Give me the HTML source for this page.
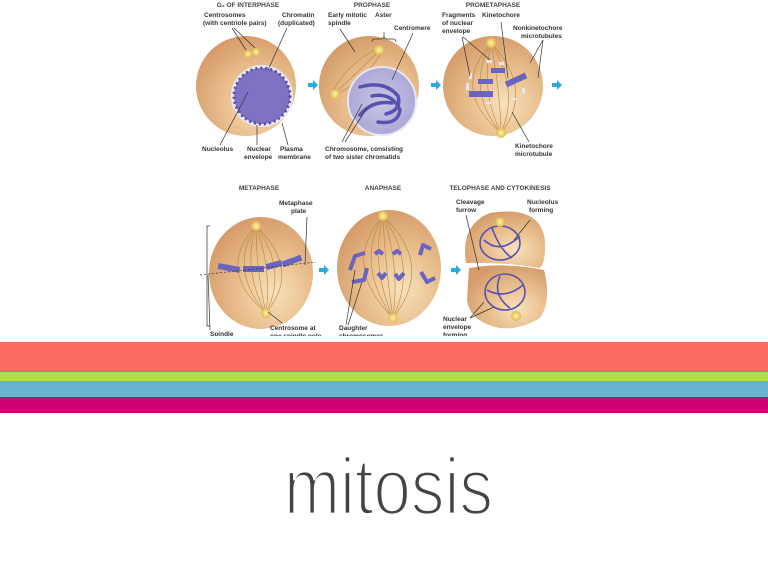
<!DOCTYPE html>
<html><head><meta charset="utf-8"><style>
html,body{margin:0;padding:0;background:#fff;width:768px;height:561px;overflow:hidden}
svg{display:block}
.t{font-family:"Liberation Sans",sans-serif;font-weight:bold;font-size:6.5px;fill:#333}
.h{font-family:"Liberation Sans",sans-serif;font-weight:bold;font-size:6.5px;fill:#444}
</style></head><body>
<svg width="768" height="561" viewBox="0 0 768 561" xmlns="http://www.w3.org/2000/svg">
<defs>
<radialGradient id="cell" cx="0.62" cy="0.68" r="0.7">
<stop offset="0" stop-color="#f8e2bd"/><stop offset="0.5" stop-color="#e9bf8e"/><stop offset="1" stop-color="#d59c6a"/>
</radialGradient>
<radialGradient id="nuc" cx="0.5" cy="0.5" r="0.6">
<stop offset="0" stop-color="#c9c6e6"/><stop offset="1" stop-color="#a7a3d4"/>
</radialGradient>
<radialGradient id="cen" cx="0.5" cy="0.5" r="0.5">
<stop offset="0" stop-color="#fff4b0"/><stop offset="1" stop-color="#e2b94a"/>
</radialGradient>
</defs>

<text class="h" x="248" y="7" text-anchor="middle">G₂ OF INTERPHASE</text>
<text class="h" x="372" y="7" text-anchor="middle">PROPHASE</text>
<text class="h" x="493" y="7" text-anchor="middle">PROMETAPHASE</text>

<circle cx="246" cy="86" r="50" fill="url(#cell)"/>
<circle cx="262" cy="96" r="31" fill="#eeeaf6"/>
<circle cx="262" cy="96" r="28" fill="#7d73c2"/>
<circle cx="262" cy="96" r="28" fill="none" stroke="#5a4fa8" stroke-width="3" stroke-dasharray="2 3"/>
<circle cx="248" cy="54" r="4" fill="url(#cen)"/><circle cx="256" cy="52" r="4" fill="url(#cen)"/>
<g stroke="#333" stroke-width="0.7" fill="none">
<line x1="232" y1="28" x2="246" y2="50"/><line x1="234" y1="28" x2="255" y2="48"/>
<line x1="287" y1="28" x2="268" y2="70"/>
<line x1="220" y1="145" x2="248" y2="92"/><line x1="257" y1="145" x2="257" y2="125"/><line x1="288" y1="145" x2="282" y2="123"/>
</g>
<text class="t" x="204" y="17">Centrosomes</text><text class="t" x="203" y="25">(with centriole pairs)</text>
<text class="t" x="282" y="17">Chromatin</text><text class="t" x="278" y="25">(duplicated)</text>
<text class="t" x="202" y="151">Nucleolus</text>
<text class="t" x="247" y="151">Nuclear</text><text class="t" x="244" y="159">envelope</text>
<text class="t" x="280" y="151">Plasma</text><text class="t" x="278" y="159">membrane</text>

<path d="M308 83h5v-3l5 5-5 5v-3h-5z" fill="#29abe2"/>

<circle cx="369" cy="86" r="50" fill="url(#cell)"/>
<g stroke="#b48a3a" stroke-width="0.6" fill="none">
<path d="M332 92 Q350 60 380 48"/><path d="M334 94 Q360 70 380 50"/><path d="M334 96 Q365 80 382 52"/>
</g>
<circle cx="382" cy="101" r="34" fill="url(#nuc)" stroke="#e8e6f4" stroke-width="2"/>
<g stroke="#5a52b0" stroke-width="3.5" fill="none" stroke-linecap="round">
<path d="M360 87 Q385 80 398 96 Q402 110 386 114"/>
<path d="M372 96 Q392 92 400 110 Q398 125 378 122"/>
<path d="M360 115 Q372 100 392 103"/>
</g>
<circle cx="379" cy="50" r="5" fill="url(#cen)"/><circle cx="335" cy="94" r="5" fill="url(#cen)"/>
<g stroke="#333" stroke-width="0.7" fill="none">
<line x1="340" y1="29" x2="355" y2="52"/><path d="M372 42 q0-3 3-3 h6 q3 0 3-3 q0 3 3 3h6q3 0 3 3"/><line x1="384" y1="32" x2="384" y2="36"/>
<line x1="413" y1="33" x2="392" y2="80"/>
<line x1="342" y1="142" x2="362" y2="104"/><line x1="345" y1="142" x2="367" y2="108"/>
</g>
<text class="t" x="328" y="17">Early mitotic</text><text class="t" x="328" y="25">spindle</text>
<text class="t" x="375" y="17">Aster</text>
<text class="t" x="394" y="30">Centromere</text>
<text class="t" x="325" y="151">Chromosome, consisting</text><text class="t" x="325" y="159">of two sister chromatids</text>

<path d="M431 83h5v-3l5 5-5 5v-3h-5z" fill="#29abe2"/>

<circle cx="493" cy="86" r="50" fill="url(#cell)"/>
<g stroke="#b48a3a" stroke-width="0.6" fill="none">
<path d="M491 43 Q450 90 501 133"/><path d="M491 43 Q465 90 501 133"/><path d="M491 43 Q480 90 501 133"/><path d="M491 43 Q500 90 501 133"/><path d="M491 43 Q520 90 501 133"/><path d="M491 43 Q535 90 501 133"/>
</g>
<circle cx="491" cy="43" r="5" fill="url(#cen)"/><circle cx="501" cy="133" r="5" fill="url(#cen)"/>
<g fill="#6a63c0">
<rect x="491" y="68" width="14" height="5"/><rect x="478" y="79" width="15" height="5"/><rect x="469" y="91" width="24" height="6"/>
<rect x="505" y="77" width="22" height="6" transform="rotate(-25 516 80)"/>
</g>
<g fill="#e6e6f0"><rect x="486" y="60" width="6" height="3"/><rect x="499" y="62" width="5" height="3"/><rect x="469" y="73" width="3" height="6"/><rect x="466" y="83" width="3" height="7"/><rect x="522" y="88" width="3" height="6"/><rect x="512" y="98" width="5" height="2"/><rect x="486" y="102" width="5" height="2"/></g>
<g stroke="#333" stroke-width="0.7" fill="none">
<line x1="462" y1="37" x2="470" y2="76"/><line x1="463" y1="37" x2="490" y2="60"/>
<line x1="501" y1="22" x2="508" y2="78"/>
<line x1="543" y1="40" x2="530" y2="63"/><line x1="543" y1="40" x2="538" y2="78"/>
<line x1="529" y1="142" x2="512" y2="112"/>
</g>
<text class="t" x="442" y="17">Fragments</text><text class="t" x="442" y="25">of nuclear</text><text class="t" x="442" y="33">envelope</text>
<text class="t" x="482" y="17">Kinetochore</text>
<text class="t" x="513" y="30">Nonkinetochore</text><text class="t" x="521" y="38">microtubules</text>
<text class="t" x="515" y="148">Kinetochore</text><text class="t" x="515" y="156">microtubule</text>

<path d="M552 83h5v-3l5 5-5 5v-3h-5z" fill="#29abe2"/>

<text class="h" x="259" y="190" text-anchor="middle">METAPHASE</text>
<text class="h" x="383" y="190" text-anchor="middle">ANAPHASE</text>
<text class="h" x="500" y="190" text-anchor="middle">TELOPHASE AND CYTOKINESIS</text>

<ellipse cx="261" cy="273" rx="52" ry="56" fill="url(#cell)"/>
<g stroke="#b48a3a" stroke-width="0.6" fill="none">
<path d="M256 226 Q215 270 266 313"/><path d="M256 226 Q228 270 266 313"/><path d="M256 226 Q242 270 266 313"/><path d="M256 226 Q256 270 266 313"/><path d="M256 226 Q272 270 266 313"/><path d="M256 226 Q288 270 266 313"/><path d="M256 226 Q302 270 266 313"/>
</g>
<circle cx="256" cy="226" r="5" fill="url(#cen)"/><circle cx="266" cy="313" r="5" fill="url(#cen)"/>
<g fill="#6a63c0">
<rect x="218" y="265" width="22" height="6" transform="rotate(10 229 268)"/><rect x="243" y="266" width="21" height="6"/><rect x="266" y="262" width="16" height="6" transform="rotate(-15 274 265)"/><rect x="282" y="258" width="20" height="6" transform="rotate(-20 292 261)"/>
</g>
<g stroke="#333" stroke-width="0.7" fill="none">
<line x1="200" y1="275" x2="316" y2="262" stroke-dasharray="2 2"/>
<path d="M210 226 h-3 v50 v50 h3"/>
<line x1="307" y1="217" x2="305" y2="265"/>
<line x1="210" y1="330" x2="208" y2="275"/>
<line x1="282" y1="323" x2="268" y2="312"/>
</g>
<text class="t" x="279" y="205">Metaphase</text><text class="t" x="291" y="213">plate</text>
<text class="t" x="210" y="336">Spindle</text>
<text class="t" x="270" y="330">Centrosome at</text><text class="t" x="270" y="338">one spindle pole</text>

<path d="M319 268h5v-3l5 5-5 5v-3h-5z" fill="#29abe2"/>

<ellipse cx="389" cy="268" rx="52" ry="58" fill="url(#cell)"/>
<g stroke="#b48a3a" stroke-width="0.6" fill="none">
<path d="M383 216 Q340 265 393 318"/><path d="M383 216 Q355 265 393 318"/><path d="M383 216 Q370 265 393 318"/><path d="M383 216 Q385 265 393 318"/><path d="M383 216 Q400 265 393 318"/><path d="M383 216 Q418 265 393 318"/><path d="M383 216 Q435 265 393 318"/>
</g>
<circle cx="383" cy="216" r="5" fill="url(#cen)"/><circle cx="393" cy="318" r="5" fill="url(#cen)"/>
<g stroke="#6a63c0" stroke-width="4" fill="none" stroke-linejoin="round">
<path d="M350 270 l5 -14 l10 -3"/><path d="M352 282 l12 -2 l3 -12"/>
<path d="M375 254 l4 -3 l4 3"/><path d="M393 254 l4 -3 l4 3"/><path d="M378 273 l4 5 l4 -5"/><path d="M395 274 l4 5 l5 -6"/>
<path d="M420 255 l3 -10 l8 4"/><path d="M421 272 l6 10 l8 -4"/>
</g>
<g stroke="#333" stroke-width="0.7" fill="none"><line x1="346" y1="325" x2="355" y2="270"/><line x1="348" y1="325" x2="362" y2="282"/></g>
<text class="t" x="339" y="330">Daughter</text><text class="t" x="339" y="338">chromosomes</text>

<path d="M451 268h5v-3l5 5-5 5v-3h-5z" fill="#29abe2"/>

<path d="M466 263 Q460 225 490 213 Q540 205 545 240 Q546 262 540 268 Q505 262 466 263z" fill="url(#cell)"/>
<path d="M469 268 Q505 262 544 270 Q552 300 540 318 Q520 330 500 328 Q470 322 467 300z" fill="url(#cell)"/>
<g stroke="#5a52b0" stroke-width="1.6" fill="none">
<ellipse cx="500" cy="243" rx="20" ry="17"/><path d="M484 240 Q500 255 520 236"/><path d="M492 228 Q500 250 512 258"/>
<ellipse cx="505" cy="292" rx="20" ry="18"/><path d="M487 290 Q505 300 523 285"/><path d="M500 276 Q492 295 510 308"/>
</g>
<circle cx="500" cy="222" r="5" fill="url(#cen)"/><circle cx="516" cy="316" r="5" fill="url(#cen)"/>
<g stroke="#333" stroke-width="0.7" fill="none">
<line x1="466" y1="215" x2="479" y2="270"/><line x1="530" y1="220" x2="514" y2="240"/>
<line x1="470" y1="318" x2="484" y2="302"/><line x1="470" y1="318" x2="494" y2="307"/>
</g>
<text class="t" x="456" y="204">Cleavage</text><text class="t" x="456" y="212">furrow</text>
<text class="t" x="527" y="204">Nucleolus</text><text class="t" x="529" y="212">forming</text>
<text class="t" x="443" y="321">Nuclear</text><text class="t" x="443" y="329">envelope</text><text class="t" x="443" y="337">forming</text>

<rect x="0" y="336" width="768" height="6" fill="#fff"/>
<rect x="0" y="342" width="768" height="30" fill="#f96c60"/>
<rect x="0" y="372" width="768" height="9" fill="#b5d957"/>
<rect x="0" y="381" width="768" height="16" fill="#68b3d1"/>
<rect x="0" y="397" width="768" height="16" fill="#cc0071"/>

<text x="284" y="514" textLength="209" lengthAdjust="spacingAndGlyphs" font-family="Liberation Sans, sans-serif" font-size="80" fill="#444" stroke="#fff" stroke-width="2.8">mitosis</text>
</svg>
</body></html>
